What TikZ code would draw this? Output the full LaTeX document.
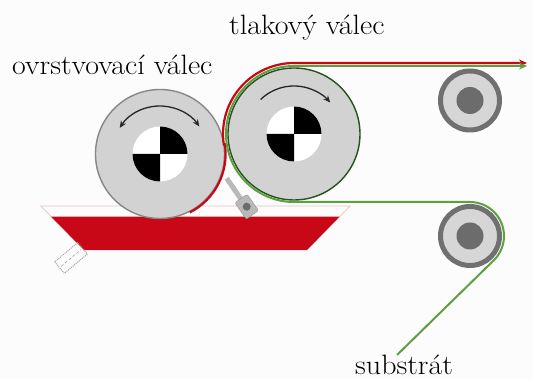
\documentclass[tikz,border=0pt]{standalone}
\usepackage{fontspec}
\usepackage{graphicx}
\usetikzlibrary{arrows.meta,calc}
\definecolor{paper}{RGB}{252,252,252}
\definecolor{inkred}{RGB}{200,8,22}
\definecolor{webgreen}{RGB}{92,160,64}
\definecolor{rimgreen}{RGB}{40,80,30}
\definecolor{rollfill}{RGB}{210,210,210}
\definecolor{rimgray}{RGB}{135,135,135}
\definecolor{idlerring}{RGB}{112,112,112}
\definecolor{idlerfill}{RGB}{214,214,214}
\definecolor{hubgray}{RGB}{108,108,108}
\definecolor{trayedge}{RGB}{225,200,190}
\definecolor{drainline}{RGB}{160,160,160}
\definecolor{bladegray}{RGB}{185,185,185}
\tikzset{
  lbl/.style={font=\rmfamily\fontsize{28}{32}\selectfont, inner sep=0pt, anchor=base west},
  roller/.style={fill=rollfill, line width=1.4pt},
  idler/.style={fill=idlerfill, draw=idlerring, line width=5pt},
  spin/.style={line width=1.3pt, color=black!85, >={Stealth[length=7pt,width=6pt]}},
  webtip/.style={>={Stealth[length=8pt,width=7pt]}},
  redweb/.style={draw=inkred, line width=2.2pt, webtip},
  greenweb/.style={draw=webgreen, line width=2pt, webtip}
}
\newcommand{\wide}[1]{\scalebox{1.07}[1]{#1}}
\newcommand{\hubmark}[1]{%
  \fill[white] (#1) circle (27.5);
  \fill[black] (#1) -- ++(0:27.5) arc[start angle=0,end angle=90,radius=27.5] -- cycle;
  \fill[black] (#1) -- ++(180:27.5) arc[start angle=180,end angle=270,radius=27.5] -- cycle;
}
\begin{document}
\begin{tikzpicture}[x=1pt,y=1pt]
\fill[paper] (0,0) rectangle (533,379);
\useasboundingbox (0,0) rectangle (533,379);

% roller centres
\coordinate (L) at (160,225);
\coordinate (R) at (294,245);
\coordinate (S1) at (470,278.5);
\coordinate (S2) at (470,143);

% coating tray and its liquid
\draw[trayedge, line width=0.8pt] (40.7,173) -- (350,173) -- (307,129) -- (84,129) -- cycle;
\fill[inkred] (51.2,162.3) -- (339.5,162.3) -- (307,129) -- (84,129) -- cycle;

% drain fitting
\begin{scope}[rotate around={40:(71,121)}]
  \draw[drainline, densely dotted, line width=1pt] (56,113.5) rectangle (86,128.5);
  \draw[drainline, densely dashed, line width=0.6pt] (58,121) -- (84,121);
\end{scope}

% doctor blade
\draw[bladegray, line width=5pt] (226.7,200.7) -- (245,174);
\fill[bladegray!80] (242.5,166) -- (251,166) -- (246.7,160) -- cycle;
\filldraw[fill=bladegray, draw=bladegray!80!black, line width=0.4pt, rounded corners=2pt,
  rotate around={-55:(246.7,172.3)}] (236.7,164.8) rectangle (256.7,179.8);
\fill[hubgray] (246.7,172.3) circle (4);

% rollers
\filldraw[roller, draw=rimgray] (L) circle (64.5);
\filldraw[roller, draw=rimgreen] (R) circle (66);
\hubmark{L}
\hubmark{R}
\draw[spin, <->] ($(L)+(147:48)$) arc[start angle=147, end angle=35, radius=48];
\draw[spin, ->] ($(R)+(134:48)$) arc[start angle=134, end angle=41, radius=48];

% idler rollers
\filldraw[idler] (S1) circle (29.5);
\fill[hubgray] (S1) circle (13.5);
\filldraw[idler] (S2) circle (29.5);
\fill[hubgray] (S2) circle (13.5);

% coating layer: picked up by the coating roller, handed over at the nip
\coordinate (redend) at (527,316);
\draw[redweb, ->]
  ($(L)+(-63:65.6)$) arc[start angle=-63, end angle=8.5, radius=65.6]
  -- ($(R)+(188.5:71)$) arc[start angle=188.5, end angle=90, radius=71] -- (redend);

% substrate web
\coordinate (subin) at (397,24);
\coordinate (greenend) at (527,313);
\draw[greenweb, ->]
  (subin) -- ($(S2)+(-45.3:34)$) arc[start angle=-45.3, end angle=90, radius=34]
  -- ($(R)+(270:68)$) arc[start angle=270, end angle=90, radius=68] -- (greenend);

% labels
\node[lbl] (coatlbl) at (12,304) {\wide{ovrstvovací válec}};
\node[lbl] (presslbl) at (229,344) {\wide{tlakový válec}};
\node[lbl] (sublbl) at (355,4) {\wide{substrát}};
\end{tikzpicture}
\end{document}
